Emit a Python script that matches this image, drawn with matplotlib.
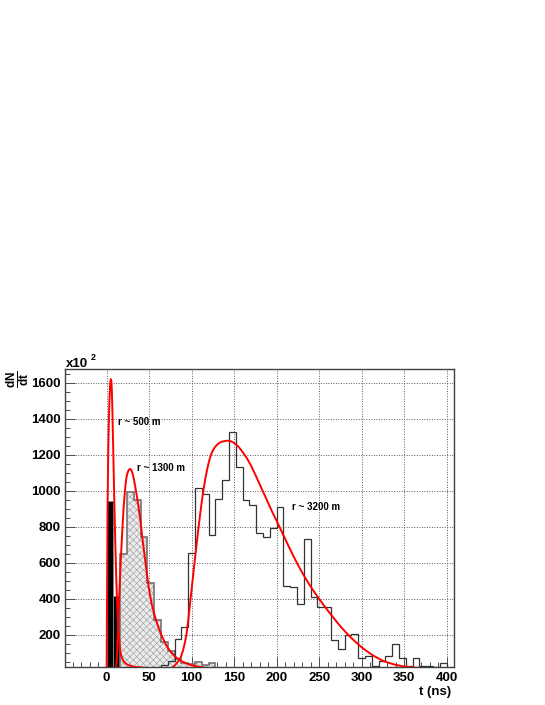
import numpy as np
import matplotlib
matplotlib.use("Agg")
import matplotlib.pyplot as plt
from matplotlib.ticker import MultipleLocator

plt.rcParams["font.family"] = ["Liberation Sans", "DejaVu Sans"]
plt.rcParams["font.weight"] = "bold"
plt.rcParams["mathtext.fontset"] = "custom"
plt.rcParams["mathtext.rm"] = "Liberation Sans:bold"
plt.rcParams["mathtext.it"] = "Liberation Sans:bold"
plt.rcParams["mathtext.bf"] = "Liberation Sans:bold"
plt.rcParams["hatch.linewidth"] = 0.45

# DATA (8 ns bins)
BIN_W = 8
edges_all = np.arange(0, 401, BIN_W)

# r ~ 500 m (black filled), bins from t = 0
hist_500_start = 0
hist_500 = [944, 415, 120, 50, 30, 22]

# r ~ 1300 m (gray hatched), bins from t = 16
hist_1300_start = 16
hist_1300 = [648, 995, 950, 740, 489, 282, 161, 110, 63, 42, 35, 50, 32, 41]

# r ~ 3200 m (open), bins from t = 56
hist_3200_start = 56
hist_3200 = [10, 30, 55, 175, 244, 652, 1013, 982, 754, 952,
             1059, 1324, 1132, 950, 918, 766, 745, 791, 911, 471,
             465, 370, 730, 407, 352, 352, 171, 119, 198, 205,
             69, 82, 27, 53, 81, 147, 73, 25, 69, 27,
             25, 18, 40]

# fitted curves
fit_500_t = [0.0, 0.5, 1.0, 1.5, 2.0, 2.5, 3.0, 3.5, 4.0, 4.5, 5.0, 5.5, 6.0,
             6.5, 7.0, 7.5, 8.0, 8.5, 9.0, 10.0, 11.0, 12.0, 13.0, 14.0, 15.0,
             16.0, 17.0, 18.0, 20.0, 23.0, 26.0, 30.0, 35.0, 40.0, 45.0]
fit_500_v = [20, 450, 850, 1080, 1250, 1370, 1460, 1530, 1580, 1610, 1620,
             1610, 1570, 1490, 1393, 1280, 1170, 1055, 944, 740, 560, 410, 295,
             210, 150, 110, 85, 70, 52, 38, 30, 24, 20, 18, 16]

fit_1300_t = [11, 12, 13, 14, 15, 16, 17, 18, 19, 20, 21, 22, 23, 24, 25, 26,
              27, 28, 29, 30, 31, 32, 33, 34, 35, 37, 39, 41, 43, 45, 47, 49,
              51, 53, 55, 58, 61, 65, 70, 75, 80, 85, 90, 95, 100, 107, 114]
fit_1300_v = [10, 60, 190, 320, 440, 550, 650, 740, 830, 910, 970, 1025, 1065,
              1090, 1105, 1115, 1120, 1120, 1115, 1103, 1087, 1065, 1040, 1012,
              985, 925, 860, 780, 700, 625, 550, 480, 420, 370, 332, 282, 238,
              192, 142, 106, 80, 62, 48, 38, 30, 23, 18]

fit_3200_t = [72, 76, 80, 83, 86, 88, 90, 92, 94, 96, 98, 100, 102, 104, 106,
              108, 110, 112, 114, 116, 118, 120, 122, 124, 127, 130, 133, 136,
              140, 143, 146, 150, 155, 160, 165, 170, 175, 180, 185, 190, 195,
              200, 205, 210, 215, 220, 225, 230, 235, 240, 245, 250, 255, 260,
              265, 270, 275, 280, 285, 290, 295, 300, 305, 310, 315, 320, 325,
              330, 340, 350, 360, 370, 380, 390, 400]
fit_3200_v = [5, 14, 28, 45, 62, 85, 115, 155, 205, 280, 370, 455, 542, 627,
              710, 792, 870, 942, 1008, 1065, 1113, 1155, 1190, 1215, 1240, 1256,
              1267, 1273, 1277, 1278, 1275, 1265, 1245, 1215, 1180, 1138, 1088,
              1036, 984, 932, 880, 832, 782, 732, 682, 634, 588, 545, 505, 467,
              432, 399, 366, 335, 305, 275, 246, 220, 195, 172, 150, 130, 112,
              95, 80, 67, 55, 46, 32, 23, 18, 15, 12, 10, 8]

labels = ["r ~ 500 m", "r ~ 1300 m", "r ~ 3200 m"]
label_pos = [(13.3, 1384), (35.6, 1126), (218, 912)]

W, H = 545, 705
fig = plt.figure(figsize=(W / 100, H / 100), dpi=100)
ax = fig.add_axes([65 / W, 1 - 666.7 / H, (454 - 65) / W, (666.7 - 368.7) / H])


def px(x, y):
    return x / W, 1 - y / H


def edges_for(start, vals):
    i0 = int(np.searchsorted(edges_all, start))
    return edges_all[i0:i0 + len(vals) + 1]


# r ~ 500 m
e500 = edges_for(hist_500_start, hist_500)
ax.bar(e500[:-1], hist_500, width=BIN_W, align="edge", color="black",
       edgecolor="0.55", linewidth=0.6, zorder=2)

# r ~ 1300 m
e1300 = edges_for(hist_1300_start, hist_1300)
ax.stairs(hist_1300, e1300, baseline=0, fill=True, facecolor="#ececec",
          edgecolor="#a0a0a0", hatch="xxxxx", linewidth=0, zorder=2)
ax.stairs(hist_1300, e1300, baseline=0, color="0.45", linewidth=1.2, zorder=3)

# r ~ 3200 m
e3200 = edges_for(hist_3200_start, hist_3200)
ax.stairs(hist_3200, e3200, baseline=0, color="0.2", linewidth=0.9, zorder=3)

# fits
for t, v in [(fit_500_t, fit_500_v), (fit_1300_t, fit_1300_v),
             (fit_3200_t, fit_3200_v)]:
    ax.plot(t, v, color="#ff0000", linewidth=1.4, zorder=4)

for txt, (tx, ty) in zip(labels, label_pos):
    ax.text(tx, ty, txt, fontsize=7, fontweight="bold", ha="left",
            va="center", zorder=5)

ax.set_xlim(-49, 408.6)
ax.set_ylim(22, 1678)
ax.set_xticks([0, 50, 100, 150, 200, 250, 300, 350, 400])
ax.set_yticks([200, 400, 600, 800, 1000, 1200, 1400, 1600])
ax.xaxis.set_minor_locator(MultipleLocator(10))
ax.yaxis.set_minor_locator(MultipleLocator(50))
ax.tick_params(which="both", direction="in", top=False, right=False,
               labelsize=9.5, width=0.7, color="0.3")
ax.tick_params(which="major", length=7.2)
ax.tick_params(which="minor", length=3.6)
ax.tick_params(axis="x", pad=3.5)
ax.tick_params(axis="y", pad=3)
for lab in ax.get_xticklabels() + ax.get_yticklabels():
    lab.set_fontweight("bold")

ax.set_axisbelow(True)
ax.grid(True, which="major", linestyle=(0, (1, 1.6)), color="0.35",
        linewidth=0.7)
for sp in ax.spines.values():
    sp.set_linewidth(1.0)
    sp.set_color("0.25")

# axis titles and multiplier
fig.text(*px(451, 692), "t (ns)", fontsize=9.5, fontweight="bold",
         ha="right", va="center")
fig.text(*px(18, 379), r"$\dfrac{dN}{dt}$", fontsize=8.5, rotation=90,
         ha="center", va="center")
fig.text(*px(66, 367), "x10", fontsize=9.5, fontweight="bold",
         ha="left", va="baseline")
fig.text(*px(91, 360), "2", fontsize=6.5, fontweight="bold",
         ha="left", va="baseline")

fig.savefig("out.png", dpi=100)
